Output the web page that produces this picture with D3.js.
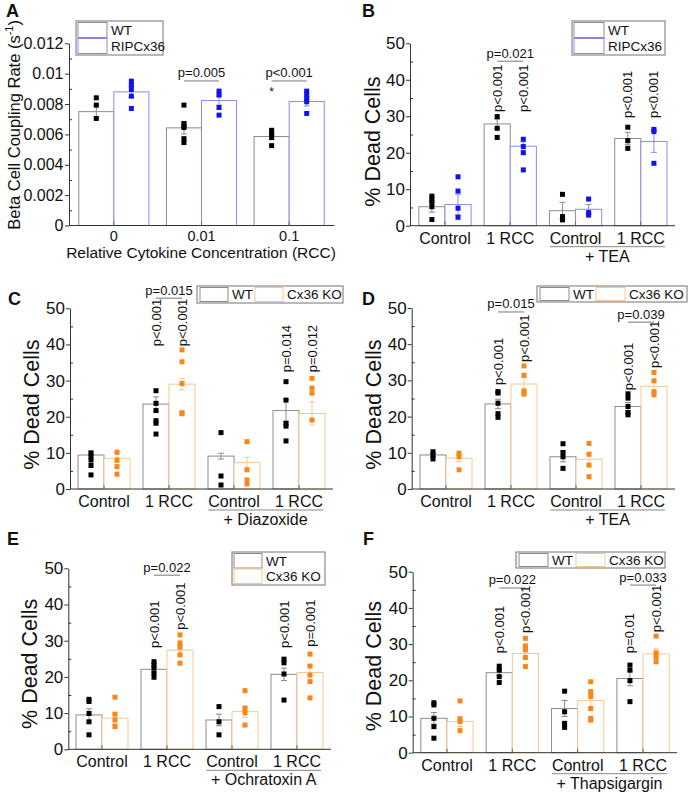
<!DOCTYPE html>
<html><head><meta charset="utf-8">
<script src="https://cdn.jsdelivr.net/npm/d3@7"></script>
<style>
body{margin:0;background:#fff;}
svg text{font-family:Arial,"Liberation Sans",sans-serif;fill:#111;}
</style></head><body>
<svg id="fig" width="689" height="793"></svg>
<script>
// ================= DATA =================
// Panel A: Beta cell coupling rate
const groupsA = ["0", "0.01", "0.1"];
const ticksA = [0, 0.002, 0.004, 0.006, 0.008, 0.01, 0.012];
const meanA_WT  = [0.0075, 0.00643, 0.00586];
const meanA_RIP = [0.0088, 0.00823, 0.00817];
const semA_WT  = [0.0004, 0.0004, 0.0002];
const semA_RIP = [0.00035, 0.0003, 0.0003];
const ptsA_WT  = [[0.00841,0.00793,0.00705],[0.00793,0.00672,0.00654,0.00645,0.00572,0.00546],[0.00627,0.00605,0.00579,0.00526]];
const ptsA_RIP = [[0.00951,0.00929,0.00896,0.00852,0.00771],[0.00885,0.00859,0.00777,0.00727],[0.00885,0.00865,0.00837,0.00815,0.00738]];

// Panels B–F: % dead cells
const groupsDead = ["Control", "1 RCC", "Control", "1 RCC"];
const ticksDead = [0, 10, 20, 30, 40, 50];

const meanB_WT  = [5.2, 27.9, 4.1, 23.9];
const meanB_RIP = [5.8, 21.8, 4.5, 23.1];
const semB_WT  = [1.5, 1.3, 2.3, 1.7];
const semB_RIP = [2.8, 1.2, 1.3, 3.0];
const ptsB_WT  = [[8.1,7.3,6.4,5.2,1.7],[29.9,26.7,24.2],[8.6,2.5,1.6],[27.0,23.3,21.2]];
const ptsB_RIP = [[13.4,9.5,4.8,2.3],[23.7,21.7,20.0,15.3],[7.3,3.6,2.9],[26.4,25.8,17.1]];

const meanC_WT = [9.4, 23.5, 9.1, 21.7];
const meanC_KO = [8.5, 29.0, 7.3, 20.9];
const semC_WT = [1.0, 2.0, 0.8, 3.0];
const semC_KO = [1.2, 1.6, 1.5, 3.2];
const ptsC_WT = [[10.0,9.2,8.0,6.5,3.9],[27.2,23.7,21.7,18.9,18.2,15.2],[15.6,3.6,1.1],[29.7,24.6,18.2,17.4,13.3]];
const ptsC_KO = [[10.2,8.0,6.2,4.1],[38.5,35.2,29.2,21.1,20.8],[13.1,5.3,2.5,1.4],[30.6,27.9,26.5,19.1]];

const meanD_WT = [9.4, 23.5, 8.9, 22.8];
const meanD_KO = [8.5, 29.0, 8.2, 28.3];
const semD_WT = [0.5, 1.3, 1.4, 1.1];
const semD_KO = [1.0, 1.8, 1.9, 1.4];
const ptsD_WT = [[10.3,9.4,8.3],[26.9,26.5,23.7,20.8,19.8],[12.5,10.1,8.9,5.7],[26.3,25.1,22.8,21.1,20.5]];
const ptsD_KO = [[9.9,8.9,5.3],[34.0,31.4,27.1,26.2],[12.6,9.6,6.6,3.4],[32.2,29.9,26.9,26.0]];

const meanE_WT = [9.5, 22.1, 8.1, 20.7];
const meanE_KO = [8.6, 27.4, 10.4, 21.2];
const semE_WT = [1.7, 0.8, 1.6, 1.7];
const semE_KO = [1.4, 1.3, 1.6, 2.2];
const ptsE_WT = [[13.8,13.2,9.9,7.6,4.0],[24.2,23.3,22.4,21.0,19.9],[11.8,7.6,4.0],[24.9,23.9,20.8,13.6]];
const ptsE_KO = [[14.4,9.7,8.1,6.3],[31.6,29.4,28.2,26.1,23.8],[16.2,11.3,10.1,6.7],[26.3,23.0,20.5,18.7,14.2]];

const meanF_WT = [9.5, 22.1, 12.2, 20.5];
const meanF_KO = [8.6, 27.4, 14.4, 27.3];
const semF_WT = [1.6, 0.8, 2.2, 2.0];
const semF_KO = [1.4, 1.3, 2.0, 1.4];
const ptsF_WT = [[13.8,13.2,9.5,7.2,4.0],[23.9,22.8,21.0,19.4],[17.0,11.3,8.1,7.0],[24.2,22.8,19.9,14.1]];
const ptsF_KO = [[14.3,9.3,8.6,6.1],[31.6,29.5,28.4,26.3,23.8],[19.6,16.9,15.5,12.2,9.5,9.0],[32.2,27.6,26.5,25.1]];

// Annotations (group index, series index, text, data-value anchor)
const pairA = [{g:1, text:"p=0.005", v:0.00952}, {g:2, text:"p<0.001", v:0.00952}];
const starA = [{g:2, s:0, text:"*", v:0.0089}];
const pairB = [{g:1, text:"p=0.021", v:45.1}];
const rotB = [{g:1,s:0,text:"p<0.001",v:31.2},{g:1,s:1,text:"p<0.001",v:31.2},{g:3,s:0,text:"p<0.001",v:29.5},{g:3,s:1,text:"p<0.001",v:29.5}];
const pairC = [{g:1, text:"p=0.015", v:52.8}];
const rotC = [{g:1,s:0,text:"p<0.001",v:39.5},{g:1,s:1,text:"p<0.001",v:39.5},{g:3,s:0,text:"p=0.014",v:32.3},{g:3,s:1,text:"p=0.012",v:32.3}];
const pairD = [{g:1, text:"p=0.015", v:48.9}, {g:3, text:"p=0.039", v:46.1}];
const rotD = [{g:1,s:0,text:"p<0.001",v:28.7},{g:1,s:1,text:"p<0.001",v:35.1},{g:3,s:0,text:"p<0.001",v:27.3},{g:3,s:1,text:"p<0.001",v:33.4}];
const pairE = [{g:1, text:"p=0.022", v:48.1}];
const rotE = [{g:1,s:0,text:"p<0.001",v:28.0},{g:1,s:1,text:"p<0.001",v:33.0},{g:3,s:0,text:"p<0.001",v:28.0},{g:3,s:1,text:"p=0.001",v:28.3}];
const pairF = [{g:1, text:"p=0.022", v:45.5}, {g:3, text:"p=0.033", v:46.3}];
const rotF = [{g:1,s:0,text:"p<0.001",v:27.5},{g:1,s:1,text:"p<0.001",v:33.1},{g:3,s:0,text:"p=0.01",v:27.5},{g:3,s:1,text:"p<0.001",v:33.3}];

// ================= STYLE =================
const WT  = {name:"WT",       bar:"#8c8c8c", pt:"#000000"};
const RIP = {name:"RIPCx36",  bar:"#8a8aee", pt:"#1212f0"};
const KO  = {name:"Cx36 KO",  bar:"#f6c890", pt:"#f8861a"};
const AXIS = "#333";

const svg = d3.select("#fig");

function drawPanel(cfg) {
  const g = svg.append("g");
  const yMax = cfg.ticks[cfg.ticks.length - 1];
  const y = d3.scaleLinear().domain([0, yMax]).range([cfg.yB, cfg.yT]);
  const x = d3.scaleBand().domain(d3.range(cfg.groups.length))
    .range([cfg.x0, cfg.x1]).paddingInner(0.2).paddingOuter(0.1);
  const bw = x.bandwidth() / 2;
  const cx = (i, s) => x(i) + bw * s + bw / 2;
  const gc = i => x(i) + x.bandwidth() / 2;

  // bars
  cfg.series.forEach((ser, s) => {
    g.append("g").selectAll("rect").data(ser.mean).join("rect")
      .attr("x", (d, i) => x(i) + bw * s)
      .attr("y", d => y(d))
      .attr("width", bw)
      .attr("height", d => y(0) - y(d))
      .attr("fill", "#fff")
      .attr("stroke", ser.style.bar)
      .attr("stroke-width", 1);
  });
  // error bars
  cfg.series.forEach((ser, s) => {
    const eg = g.append("g").attr("stroke", ser.style.bar).attr("stroke-width", 1);
    ser.mean.forEach((m, i) => {
      const e = ser.sem[i], c = cx(i, s);
      eg.append("line").attr("x1", c).attr("x2", c).attr("y1", y(m - e)).attr("y2", y(m + e));
      eg.append("line").attr("x1", c - 3).attr("x2", c + 3).attr("y1", y(m - e)).attr("y2", y(m - e));
      eg.append("line").attr("x1", c - 3).attr("x2", c + 3).attr("y1", y(m + e)).attr("y2", y(m + e));
    });
  });
  // points
  cfg.series.forEach((ser, s) => {
    const flat = [];
    ser.pts.forEach((arr, i) => arr.forEach(v => flat.push({i, v})));
    g.append("g").selectAll("rect").data(flat).join("rect")
      .attr("x", d => cx(d.i, s) - 2.5)
      .attr("y", d => y(d.v) - 2.5)
      .attr("width", 5).attr("height", 5)
      .attr("fill", ser.style.pt);
  });

  // y axis
  const ya = g.append("g").attr("transform", `translate(${cfg.ax},0)`)
    .call(d3.axisLeft(y).tickValues(cfg.ticks).tickSize(4).tickSizeOuter(0)
      .tickPadding(cfg.tickPad).tickFormat(cfg.fmt));
  ya.select(".domain").attr("stroke", AXIS);
  ya.selectAll(".tick line").attr("stroke", AXIS);
  ya.selectAll(".tick text").style("font-size", cfg.yTickFont + "px")
    .style("font-family", 'Arial,"Liberation Sans",sans-serif').attr("fill", "#111");
  const minor = cfg.ticks.slice(0, -1).map((t, k) => (t + cfg.ticks[k + 1]) / 2);
  const ym = g.append("g").attr("transform", `translate(${cfg.ax},0)`)
    .call(d3.axisRight(y).tickValues(minor).tickSize(3).tickFormat(""));
  ym.select(".domain").remove();
  ym.selectAll(".tick line").attr("stroke", AXIS);

  // x axis line + ticks at group centers
  g.append("line").attr("x1", cfg.ax).attr("x2", cfg.x1 + 1.5)
    .attr("y1", cfg.yB).attr("y2", cfg.yB).attr("stroke", AXIS);
  cfg.groups.forEach((lab, i) => {
    g.append("line").attr("x1", gc(i)).attr("x2", gc(i))
      .attr("y1", cfg.yB).attr("y2", cfg.yB - 4).attr("stroke", "#666");
  });
  // group labels
  const labs = cfg.groups.map((lab, i) =>
    g.append("text").attr("x", gc(i)).attr("y", cfg.yB + cfg.labDy)
      .attr("text-anchor", "middle").style("font-size", cfg.xTickFont + "px").text(lab));

  // treatment label with underline
  if (cfg.treat) {
    const b3 = labs[2].node().getBBox(), b4 = labs[3].node().getBBox();
    const lx1 = b3.x, lx2 = b4.x + b4.width;
    g.append("line").attr("x1", lx1).attr("x2", lx2)
      .attr("y1", cfg.yB + 21).attr("y2", cfg.yB + 21).attr("stroke", "#888");
    g.append("text").attr("x", (lx1 + lx2) / 2).attr("y", cfg.yB + 36)
      .attr("text-anchor", "middle").style("font-size", "16px").text(cfg.treat);
  }
  // x title
  if (cfg.xTitle) {
    g.append("text").attr("x", (cfg.ax + cfg.x1) / 2 + 0).attr("y", cfg.yB + 32.5)
      .attr("text-anchor", "middle").style("font-size", "15.5px").text(cfg.xTitle);
  }

  // y title
  const yt = g.append("text")
    .attr("transform", `translate(${cfg.ax + cfg.yTitleDx},${(cfg.yB + cfg.yT) / 2 + cfg.yTitleDy}) rotate(-90)`)
    .attr("text-anchor", "middle").style("font-size", cfg.yTitleFont + "px");
  cfg.yTitle.forEach(p => {
    const ts = yt.append("tspan").text(p.t);
    if (p.sup) ts.attr("dy", -7).style("font-size", "11px");
    if (p.after) ts.attr("dy", 7);
  });

  // panel letter
  g.append("text").attr("x", cfg.letter[0]).attr("y", cfg.letter[1])
    .style("font-size", "18px").style("font-weight", "bold").text(cfg.id);

  // pair annotations
  (cfg.pairs || []).forEach(a => {
    g.append("line").attr("x1", cx(a.g, 0)).attr("x2", cx(a.g, 1))
      .attr("y1", y(a.v)).attr("y2", y(a.v)).attr("stroke", "#777");
    g.append("text").attr("x", gc(a.g)).attr("y", y(a.v) - 3.5)
      .attr("text-anchor", "middle").style("font-size", "13px").text(a.text);
  });
  // rotated annotations
  (cfg.rots || []).forEach(a => {
    g.append("text")
      .attr("transform", `translate(${cx(a.g, a.s) + 4.5},${y(a.v)}) rotate(-90)`)
      .attr("text-anchor", "start").style("font-size", "13px").text(a.text);
  });
  (cfg.stars || []).forEach(a => {
    g.append("text").attr("x", cx(a.g, a.s)).attr("y", y(a.v) + 6)
      .attr("text-anchor", "middle").style("font-size", "12px").attr("fill", "#555").text(a.text);
  });

  // legend
  const L = cfg.legend;
  g.append("rect").attr("x", L.x).attr("y", L.y).attr("width", L.w).attr("height", L.h)
    .attr("fill", "#fff").attr("stroke", "#8a8a8a").attr("stroke-width", 1.2);
  cfg.series.forEach((ser, i) => {
    let sx, sy, sh;
    if (L.orient === "v") {
      sh = (L.h - 4) / 2; sx = L.x + 2; sy = L.y + 1.5 + i * (sh + 1);
    } else {
      sh = L.h - 3; sx = L.x + 3 + i * L.step; sy = L.y + 1.5;
    }
    g.append("rect").attr("x", sx).attr("y", sy).attr("width", L.sw).attr("height", sh)
      .attr("fill", "#fff").attr("stroke", ser.style.bar);
    g.append("text").attr("x", sx + L.sw + 4).attr("y", sy + sh / 2 + 4.8)
      .style("font-size", "13.5px").text(ser.style.name);
  });
}

const fmtA = d => d === 0 ? "0" : String(+d.toFixed(3));
const fmtD = d3.format("d");
const deadTitle = [{t:"% Dead Cells"}];

drawPanel({id:"A", letter:[6,17], groups:groupsA, ticks:ticksA, fmt:fmtA,
  ax:69, x0:70, x1:333, yB:225.5, yT:43.3, tickPad:1.5, yTickFont:16, xTickFont:14.5, labDy:15,
  xTitle:"Relative Cytokine Concentration (RCC)",
  yTitle:[{t:"Beta Cell Coupling Rate (s"},{t:"-1",sup:true},{t:")",after:true}],
  yTitleFont:16.5, yTitleDx:-49.5, yTitleDy:-9.5,
  series:[{style:WT, mean:meanA_WT, sem:semA_WT, pts:ptsA_WT},{style:RIP, mean:meanA_RIP, sem:semA_RIP, pts:ptsA_RIP}],
  pairs:pairA, stars:starA,
  legend:{orient:"v", x:76, y:21, w:87, h:34, sw:29}});

drawPanel({id:"B", letter:[362,17], groups:groupsDead, ticks:ticksDead, fmt:fmtD,
  ax:410, x0:412.3, x1:673.5, yB:225.7, yT:43.3, tickPad:1, yTickFont:17, xTickFont:16, labDy:18,
  treat:"+ TEA", yTitle:deadTitle, yTitleFont:21.5, yTitleDx:-30, yTitleDy:7,
  series:[{style:WT, mean:meanB_WT, sem:semB_WT, pts:ptsB_WT},{style:RIP, mean:meanB_RIP, sem:semB_RIP, pts:ptsB_RIP}],
  pairs:pairB, rots:rotB,
  legend:{orient:"v", x:572, y:21, w:93, h:34, sw:30}});

drawPanel({id:"C", letter:[8,305], groups:groupsDead, ticks:ticksDead, fmt:fmtD,
  ax:70, x0:71.5, x1:331.5, yB:489, yT:308.3, tickPad:1, yTickFont:17, xTickFont:16, labDy:18,
  treat:"+ Diazoxide", yTitle:deadTitle, yTitleFont:21.5, yTitleDx:-31, yTitleDy:6,
  series:[{style:WT, mean:meanC_WT, sem:semC_WT, pts:ptsC_WT},{style:KO, mean:meanC_KO, sem:semC_KO, pts:ptsC_KO}],
  pairs:pairC, rots:rotC,
  legend:{orient:"h", x:197, y:286, w:146, h:17, sw:28, step:55}});

drawPanel({id:"D", letter:[362,305], groups:groupsDead, ticks:ticksDead, fmt:fmtD,
  ax:411.7, x0:413.5, x1:673.5, yB:489, yT:308, tickPad:1, yTickFont:17, xTickFont:16, labDy:18,
  treat:"+ TEA", yTitle:deadTitle, yTitleFont:21.5, yTitleDx:-31, yTitleDy:6,
  series:[{style:WT, mean:meanD_WT, sem:semD_WT, pts:ptsD_WT},{style:KO, mean:meanD_KO, sem:semD_KO, pts:ptsD_KO}],
  pairs:pairD, rots:rotD,
  legend:{orient:"h", x:537, y:286, w:150, h:16, sw:29, step:56}});

drawPanel({id:"E", letter:[7,545], groups:groupsDead, ticks:ticksDead, fmt:fmtD,
  ax:68.3, x0:69.5, x1:329.5, yB:749.3, yT:568.3, tickPad:1, yTickFont:17, xTickFont:16, labDy:18,
  treat:"+ Ochratoxin A", yTitle:deadTitle, yTitleFont:21.5, yTitleDx:-31, yTitleDy:5,
  series:[{style:WT, mean:meanE_WT, sem:semE_WT, pts:ptsE_WT},{style:KO, mean:meanE_KO, sem:semE_KO, pts:ptsE_KO}],
  pairs:pairE, rots:rotE,
  legend:{orient:"v", x:232, y:552, w:93, h:33, sw:28}});

drawPanel({id:"F", letter:[363,545], groups:groupsDead, ticks:ticksDead, fmt:fmtD,
  ax:412.7, x0:414.3, x1:675.7, yB:752.7, yT:571.7, tickPad:1, yTickFont:17, xTickFont:16, labDy:18,
  treat:"+ Thapsigargin", yTitle:deadTitle, yTitleFont:21.5, yTitleDx:-32, yTitleDy:4,
  series:[{style:WT, mean:meanF_WT, sem:semF_WT, pts:ptsF_WT},{style:KO, mean:meanF_KO, sem:semF_KO, pts:ptsF_KO}],
  pairs:pairF, rots:rotF,
  legend:{orient:"h", x:516, y:552, w:149, h:16, sw:29, step:57}});
</script>
</body></html>
